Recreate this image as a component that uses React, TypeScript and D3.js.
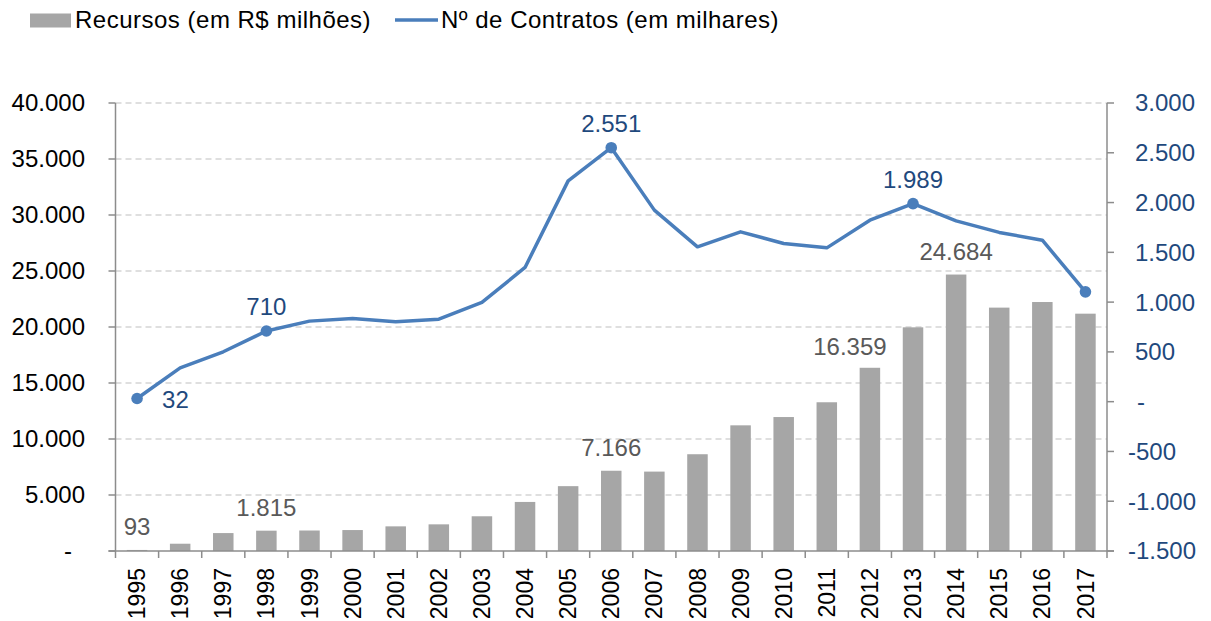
import React from 'react';
import { scaleBand, scaleLinear, line } from 'd3';

// Data
const years = [
    '1995', '1996', '1997', '1998', '1999', '2000', '2001', '2002', '2003', '2004', '2005', '2006',
    '2007', '2008', '2009', '2010', '2011', '2012', '2013', '2014', '2015', '2016', '2017',
];
// Recursos (em R$ milhões)
const recursos = [
    93, 650, 1600, 1815, 1830, 1870, 2200, 2380, 3100, 4380, 5790, 7166,
    7090, 8640, 11220, 11960, 13280, 16359, 19970, 24684, 21730, 22230, 21190,
];
// Nº de Contratos (em milhares)
const contratos = [
    32, 340, 501, 710, 809, 836, 802, 829, 997, 1348, 2218, 2551,
    1924, 1555, 1706, 1589, 1545, 1823, 1989, 1816, 1700, 1622, 1103,
];
const barLabelYears = ['1995', '1998', '2006', '2012', '2014'];
const markerYears = ['1995', '1998', '2006', '2013', '2017'];
const lineLabelYears = ['1995', '1998', '2006', '2013'];
const leftTicks = [0, 5000, 10000, 15000, 20000, 25000, 30000, 35000, 40000];
const rightTicks = [-1500, -1000, -500, 0, 500, 1000, 1500, 2000, 2500, 3000];

const fmt = (v: number) => (v === 0 ? '-' : v.toLocaleString('de-DE'));

export default function App() {
    const width = 1211;
    const height = 621;
    const margin = { top: 103, right: 104, bottom: 70, left: 115.5 };
    const innerW = width - margin.left - margin.right;
    const plotRight = margin.left + innerW;
    const plotBottom = height - margin.bottom; // 551

    const x = scaleBand().domain(years).range([margin.left, plotRight]);
    const yLeft = scaleLinear().domain([0, 40000]).range([plotBottom, margin.top]);
    const yRight = scaleLinear().domain([-1500, 3000]).range([plotBottom, margin.top]);
    const barW = 20.5;
    const cx = (yr: string) => (x(yr) as number) + x.bandwidth() / 2;

    const linePath = line<number>()
        .x((_, i) => cx(years[i]))
        .y(d => yRight(d))(contratos);

    const font = '"Liberation Sans", Arial, sans-serif';
    const axisColor = '#8c8c8c';
    const blue = '#4A7EBB';
    const darkBlue = '#1F497D';

    return (
        <svg width={width} height={height} style={{ position: 'absolute', left: 0, top: 0 }} fontFamily={font}>
            {/* Legend */}
            <rect x={30} y={13.5} width={41} height={14} fill="#A6A6A6" />
            <text x={75} y={28} fontSize={24} letterSpacing={0.5} fill="#000">Recursos (em R$ milhões)</text>
            <line x1={395} x2={438} y1={20} y2={20} stroke={blue} strokeWidth={3.5} />
            <text x={441} y={28} fontSize={24} letterSpacing={0.5} fill="#000">Nº de Contratos (em milhares)</text>

            {/* Gridlines */}
            {leftTicks.filter(t => t > 0).map(t => (
                <line key={t} x1={margin.left} x2={plotRight} y1={yLeft(t)} y2={yLeft(t)}
                    stroke="#BFBFBF" strokeWidth={1.2} strokeDasharray="6,4" />
            ))}

            {/* Bars */}
            {years.map((yr, i) => (
                <rect key={yr} x={cx(yr) - barW / 2} y={yLeft(recursos[i])} width={barW}
                    height={plotBottom - yLeft(recursos[i])} fill="#A6A6A6" />
            ))}

            {/* Bar labels (2012 label sits a little left of its bar) */}
            {years.map((yr, i) => barLabelYears.includes(yr) ? (
                <text key={yr} x={cx(yr) + (yr === '2012' ? -20 : 0)} y={yLeft(recursos[i]) - (yr === '2012' ? 13 : 15)}
                    textAnchor="middle" fontSize={24} fill="#595959">
                    {fmt(recursos[i])}
                </text>
            ) : null)}

            {/* Axes */}
            <line x1={margin.left} x2={margin.left} y1={margin.top} y2={plotBottom} stroke={axisColor} strokeWidth={1.5} />
            <line x1={plotRight} x2={plotRight} y1={margin.top} y2={plotBottom} stroke={axisColor} strokeWidth={1.5} />
            <line x1={margin.left - 7} x2={plotRight + 7} y1={plotBottom} y2={plotBottom} stroke={axisColor} strokeWidth={1.5} />
            {leftTicks.map(t => (
                <g key={t}>
                    <line x1={margin.left - 7} x2={margin.left} y1={yLeft(t)} y2={yLeft(t)} stroke={axisColor} strokeWidth={1.5} />
                    <text x={t === 0 ? 72 : 85} y={yLeft(t)} dy="0.35em" textAnchor="end" fontSize={24} fill="#000">{fmt(t)}</text>
                </g>
            ))}
            {rightTicks.map(t => (
                <g key={t}>
                    <line x1={plotRight} x2={plotRight + 7} y1={yRight(t)} y2={yRight(t)} stroke={axisColor} strokeWidth={1.5} />
                    <text x={t < 0 ? 1128 : t === 0 ? 1137 : 1135} y={yRight(t)} dy="0.35em" textAnchor="start" fontSize={24} fill={darkBlue}>{fmt(t)}</text>
                </g>
            ))}
            {[...years.map(yr => x(yr) as number), plotRight].map((p, i) => (
                <line key={i} x1={p} x2={p} y1={plotBottom} y2={plotBottom + 7} stroke={axisColor} strokeWidth={1.5} />
            ))}
            {years.map(yr => (
                <text key={yr} transform={`translate(${cx(yr)},${plotBottom + 17}) rotate(-90)`} dy="0.35em"
                    textAnchor="end" fontSize={23} fill="#000">{yr}</text>
            ))}

            {/* Line series */}
            <path d={linePath ?? ''} fill="none" stroke={blue} strokeWidth={3.5} strokeLinejoin="round" />
            {years.map((yr, i) => markerYears.includes(yr) ? (
                <circle key={yr} cx={cx(yr)} cy={yRight(contratos[i])} r={5.8} fill={blue} />
            ) : null)}
            {years.map((yr, i) => lineLabelYears.includes(yr) ? (
                i === 0 ? (
                    <text key={yr} x={cx(yr) + 25} y={yRight(contratos[i]) + 10} fontSize={24} fill={darkBlue}>{fmt(contratos[i])}</text>
                ) : (
                    <text key={yr} x={cx(yr)} y={yRight(contratos[i]) - 16} textAnchor="middle" fontSize={24} fill={darkBlue}>{fmt(contratos[i])}</text>
                )
            ) : null)}
        </svg>
    );
}
